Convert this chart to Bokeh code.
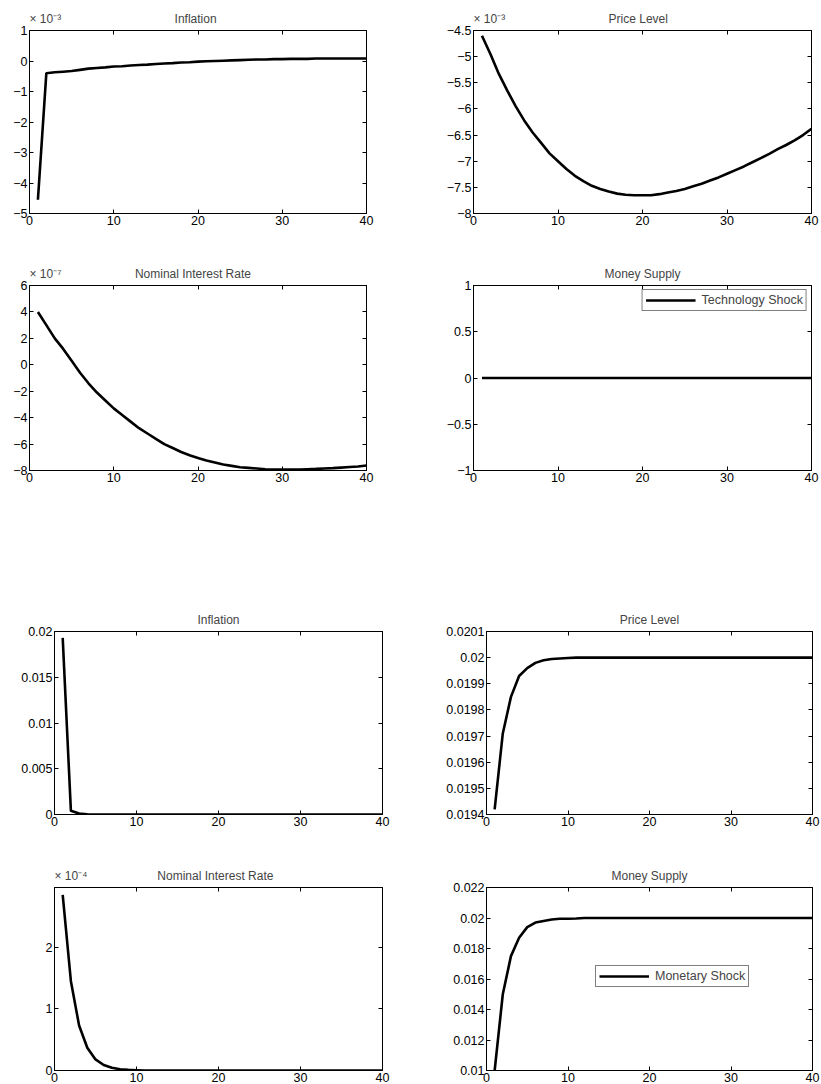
from bokeh.plotting import figure
from bokeh.models import (LinearAxis, FixedTicker, CustomJSTickFormatter, Range1d, Legend, LegendItem)
from bokeh.layouts import column, row
from bokeh.embed import file_html
from bokeh.resources import INLINE

periods = list(range(1, 41))

# Technology shock
tech_inflation = [-4.55e-3, -0.40e-3, -0.37e-3, -0.35e-3, -0.33e-3, -0.29e-3, -0.25e-3, -0.23e-3, -0.21e-3, -0.18e-3,
                  -0.17e-3, -0.15e-3, -0.13e-3, -0.12e-3, -0.10e-3, -0.08e-3, -0.07e-3, -0.05e-3, -0.04e-3, -0.02e-3,
                  -0.01e-3, 0.00e-3, 0.01e-3, 0.02e-3, 0.03e-3, 0.04e-3, 0.05e-3, 0.05e-3, 0.06e-3, 0.06e-3,
                  0.07e-3, 0.07e-3, 0.07e-3, 0.08e-3, 0.08e-3, 0.08e-3, 0.08e-3, 0.08e-3, 0.08e-3, 0.08e-3]
tech_price = [v * 1e-3 for v in [-4.60, -4.95, -5.33, -5.65, -5.95, -6.22, -6.45, -6.65, -6.85, -7.00,
                                 -7.15, -7.28, -7.38, -7.47, -7.53, -7.58, -7.62, -7.64, -7.65, -7.65,
                                 -7.65, -7.63, -7.60, -7.57, -7.53, -7.48, -7.43, -7.37, -7.31, -7.24,
                                 -7.17, -7.10, -7.02, -6.94, -6.86, -6.77, -6.69, -6.60, -6.50, -6.38]]
tech_rate = [v * 1e-7 for v in [4.0, 3.0, 2.0, 1.2, 0.3, -0.6, -1.4, -2.1, -2.7, -3.3,
                                -3.8, -4.3, -4.8, -5.2, -5.6, -6.0, -6.3, -6.6, -6.85, -7.05,
                                -7.25, -7.4, -7.55, -7.65, -7.75, -7.8, -7.85, -7.9, -7.92, -7.93,
                                -7.93, -7.92, -7.9, -7.88, -7.85, -7.82, -7.78, -7.74, -7.7, -7.62]]
tech_money = [0.0] * 40

# Monetary shock
mon_inflation = [0.0193, 0.0004, 0.0001, 0.00003] + [0.0] * 36
mon_price = [0.01942, 0.01971, 0.01985, 0.01993, 0.01996, 0.01998, 0.01999, 0.019995, 0.019997, 0.0199985] + [0.02] * 30
mon_rate = [v * 1e-4 for v in [2.85, 1.45, 0.73, 0.37, 0.18, 0.09, 0.045, 0.02, 0.01, 0.005]] + [0.0] * 30
mon_money = [0.0100, 0.0150, 0.0175, 0.0187, 0.0194, 0.0197, 0.0198, 0.0199, 0.01995, 0.01995,
             0.01997] + [0.02] * 29

FONT = "Liberation Sans"
TITLE_PX = 12

WIDTHS = {'a': .556, 'b': .556, 'c': .5, 'e': .556, 'f': .278, 'i': .222, 'l': .222, 'n': .556, 'o': .556,
          't': .278, 'r': .333, 'y': .5, 'u': .556, 'm': .833, 'p': .556, 'v': .5, 's': .5, 'L': .556,
          'I': .278, 'N': .722, 'M': .833, 'P': .667, 'R': .722, 'S': .667, ' ': .278, '\u00d7': .584,
          '1': .556, '0': .556, '\u00a0': .278}


def tw(s):
    return sum(WIDTHS.get(c, .5) for c in s) * TITLE_PX


def fmt(scale):
    return CustomJSTickFormatter(args=dict(scale=scale), code="""
        let v = Math.round(tick / scale * 1e6) / 1e6;
        let s = v.toString();
        return s.replace('-', '\u2212');
    """)


def panel(title, y, yr, yticks, scale, exp, w_frame, h_frame, bl, br, bt, bb, legend=None):
    p = figure(width=bl + w_frame + br, height=bt + h_frame + bb, output_backend="svg",
               toolbar_location=None, x_range=Range1d(0, 40), y_range=Range1d(*yr),
               min_border_left=bl, min_border_right=br, min_border_top=bt, min_border_bottom=bb,
               x_axis_location=None, y_axis_location=None)
    p.grid.visible = False
    p.outline_line_color = "black"
    p.outline_line_width = 1
    p.background_fill_color = "white"
    p.border_fill_color = "white"
    for loc in ["below", "left", "above", "right"]:
        if loc in ("below", "above"):
            ax = LinearAxis(ticker=FixedTicker(ticks=[0, 10, 20, 30, 40]))
        else:
            ax = LinearAxis(ticker=FixedTicker(ticks=yticks), formatter=fmt(scale))
        ax.major_tick_in = 4
        ax.major_tick_out = 0
        ax.minor_tick_in = 0
        ax.minor_tick_out = 0
        ax.axis_line_color = "black"
        ax.major_label_text_font = FONT
        ax.major_label_text_font_size = "12.5px"
        ax.major_label_text_color = "black"
        ax.major_label_standoff = 2
        if loc in ("above", "right"):
            ax.major_label_text_alpha = 0
            ax.major_label_text_font_size = "1px"
            ax.major_label_standoff = 0
        p.add_layout(ax, loc)
    if exp is not None:
        prefix = "\u00d7 10" + exp
        gap = w_frame / 2 - tw(prefix) - tw(title) / 2
        n = max(1, int(round(gap / (0.278 * TITLE_PX))))
        p.title.text = prefix + "\u00a0" * n + title
        p.title.align = "left"
    else:
        p.title.text = title
        p.title.align = "center"
    p.title.text_font = FONT
    p.title.text_font_style = "normal"
    p.title.text_font_size = "%dpx" % TITLE_PX
    p.title.offset = 0
    r = p.line(periods, y, line_color="black", line_width=2.6)
    if legend is not None:
        text, loc = legend
        lg = Legend(items=[LegendItem(label=text, renderers=[r])], location=loc,
                    label_text_font=FONT, label_text_font_size="12.5px", border_line_color="black",
                    border_line_width=1, glyph_width=50, glyph_height=10, padding=3, margin=4,
                    label_standoff=6, spacing=0, label_height=10)
        p.add_layout(lg, "center")
    return p


pA = panel("Inflation", tech_inflation, (-5e-3, 1e-3), [-5e-3, -4e-3, -3e-3, -2e-3, -1e-3, 0, 1e-3], 1e-3, "\u207b\u00b3",
           337, 183, 29, 50, 30, 42)
pB = panel("Price Level", tech_price, (-8e-3, -4.5e-3),
           [-8e-3, -7.5e-3, -7e-3, -6.5e-3, -6e-3, -5.5e-3, -5e-3, -4.5e-3], 1e-3, "\u207b\u00b3",
           338, 183, 57, 10, 30, 42)
pC = panel("Nominal Interest Rate", tech_rate, (-8e-7, 6e-7),
           [-8e-7, -6e-7, -4e-7, -2e-7, 0, 2e-7, 4e-7, 6e-7], 1e-7, "\u207b\u2077",
           337, 185, 29, 50, 30, 131)
pD = panel("Money Supply", tech_money, (-1, 1), [-1, -0.5, 0, 0.5, 1], 1, None,
           338, 185, 57, 10, 30, 131, legend=("Technology Shock", "top_right"))
pE = panel("Inflation", mon_inflation, (0, 0.02), [0, 0.005, 0.01, 0.015, 0.02], 1, None,
           328, 183, 54, 36, 30, 43)
pF = panel("Price Level", mon_price, (0.0194, 0.0201),
           [0.0194, 0.0195, 0.0196, 0.0197, 0.0198, 0.0199, 0.02, 0.0201], 1, None,
           326, 183, 68, 9, 30, 43)
pG = panel("Nominal Interest Rate", mon_rate, (0, 2.97e-4), [0, 1e-4, 2e-4], 1e-4, "\u207b\u2074",
           328, 183, 54, 36, 30, 14)
pH = panel("Money Supply", mon_money, (0.01, 0.022),
           [0.01, 0.012, 0.014, 0.016, 0.018, 0.02, 0.022], 1, None,
           326, 183, 68, 9, 30, 14, legend=("Monetary Shock", (109, 83)))

layout = column(row(pA, pB), row(pC, pD), row(pE, pF), row(pG, pH), spacing=0)
open("out.html", "w").write(file_html(layout, INLINE))
